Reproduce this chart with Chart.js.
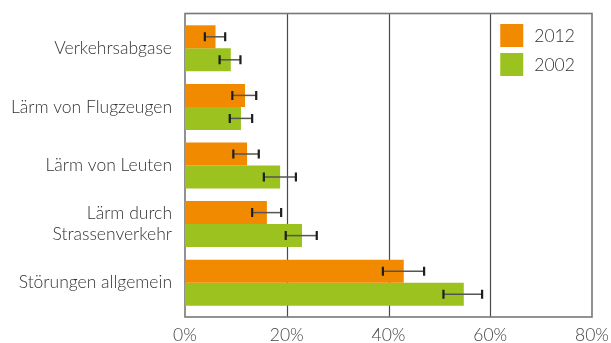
<!DOCTYPE html>
<html>
<head>
<meta charset="utf-8">
<script src="https://cdn.jsdelivr.net/npm/chart.js@4"></script>
<style>
  html, body { margin: 0; padding: 0; background: #fff; }
  #wrap { width: 611px; height: 343px; }
</style>
</head>
<body>
<div id="wrap"><canvas id="chart"></canvas></div>
<script>
//categories (y axis)
const categories = [
  "Verkehrsabgase",
  "Lärm von Flugzeugen",
  "Lärm von Leuten",
  ["Lärm durch", "Strassenverkehr"],
  "Störungen allgemein"
];
//share in percent per year
const values2012 = [6.0, 11.8, 12.2, 16.1, 43.0];
const values2002 = [9.0, 11.0, 18.7, 23.0, 54.8];
//error bars, low and high end
const low2012 = [3.9, 9.3, 9.5, 13.2, 38.9];
const high2012 = [7.9, 14.0, 14.5, 18.9, 47.0];
const low2002 = [6.8, 8.8, 15.5, 19.8, 50.8];
const high2002 = [10.9, 13.2, 21.8, 25.9, 58.4];
//x axis ticks
const xTicks = [0, 20, 40, 60, 80];

const orange = "#f28a00";
const green = "#9bc21e";
const font = "Lato, 'Open Sans', sans-serif";

//frame box, grid lines, error bars and legend
const extras = {
  id: "extras",
  beforeDatasetsDraw(chart) {
    const { ctx, chartArea: a, scales: { x } } = chart;
    const top = a.top - 5.5, bottom = a.bottom + 5;
    ctx.save();
    ctx.strokeStyle = "#4a4a4a";
    ctx.lineWidth = 1.2;
    xTicks.slice(1, -1).forEach(v => {
      const px = Math.round(x.getPixelForValue(v)) + 0.5;
      ctx.beginPath();
      ctx.moveTo(px, top);
      ctx.lineTo(px, bottom);
      ctx.stroke();
    });
    ctx.strokeStyle = "#777";
    ctx.lineWidth = 1.6;
    ctx.strokeRect(a.left, top, a.right - a.left, bottom - top);
    ctx.restore();
  },
  afterDatasetsDraw(chart) {
    const { ctx, chartArea: a, scales: { x } } = chart;
    const errs = [[low2012, high2012], [low2002, high2002]];
    ctx.save();
    chart.data.datasets.forEach((ds, i) => {
      chart.getDatasetMeta(i).data.forEach((bar, j) => {
        const x1 = x.getPixelForValue(errs[i][0][j]);
        const x2 = x.getPixelForValue(errs[i][1][j]);
        const y = bar.y;
        ctx.strokeStyle = "#555";
        ctx.lineWidth = 1.5;
        ctx.beginPath();
        ctx.moveTo(x1, y);
        ctx.lineTo(x2, y);
        ctx.stroke();
        ctx.strokeStyle = "#1e1e1e";
        ctx.lineWidth = 2.2;
        ctx.beginPath();
        ctx.moveTo(x1, y - 4.5);
        ctx.lineTo(x1, y + 4.5);
        ctx.moveTo(x2, y - 4.5);
        ctx.lineTo(x2, y + 4.5);
        ctx.stroke();
      });
    });
    //legend inside the plot, top right
    const lx = x.getPixelForValue(60) + 10;
    chart.data.datasets.forEach((ds, i) => {
      const ly = a.top + 5 + i * 29;
      ctx.fillStyle = ds.backgroundColor;
      ctx.fillRect(lx, ly, 23, 23);
      ctx.fillStyle = "#333";
      ctx.font = "300 17.5px " + font;
      ctx.textBaseline = "middle";
      ctx.fillText(ds.label, lx + 34, ly + 12);
    });
    ctx.restore();
  }
};

new Chart(document.getElementById("chart"), {
  type: "bar",
  plugins: [extras],
  data: {
    labels: categories,
    datasets: [
      { label: "2012", data: values2012, backgroundColor: orange },
      { label: "2002", data: values2002, backgroundColor: green }
    ]
  },
  options: {
    indexAxis: "y",
    responsive: true,
    maintainAspectRatio: false,
    animation: false,
    layout: { padding: { top: 19, right: 19, left: 0, bottom: 0 } },
    datasets: { bar: { barPercentage: 1, categoryPercentage: 0.785 } },
    plugins: {
      legend: { display: false },
      tooltip: { enabled: false }
    },
    scales: {
      x: {
        min: 0,
        max: 80,
        afterBuildTicks: s => { s.ticks = xTicks.map(v => ({ value: v })); },
        afterFit: s => {
          s.height = 31;
          s.paddingLeft = 0;
          s.paddingRight = 0;
        },
        grid: { display: false, drawTicks: false },
        border: { display: false },
        ticks: {
          color: "#444",
          padding: 13,
          font: { family: font, size: 17.5, weight: 300 },
          callback: v => v + "%"
        }
      },
      y: {
        afterFit: s => {
          s.width = 185;
          s.paddingTop = 0;
          s.paddingBottom = 0;
        },
        grid: { display: false, drawTicks: false },
        border: { display: false },
        ticks: {
          color: "#333",
          padding: 13,
          font: { family: font, size: 17.5, weight: 300, lineHeight: 1.2 }
        }
      }
    }
  }
});
</script>
</body>
</html>
